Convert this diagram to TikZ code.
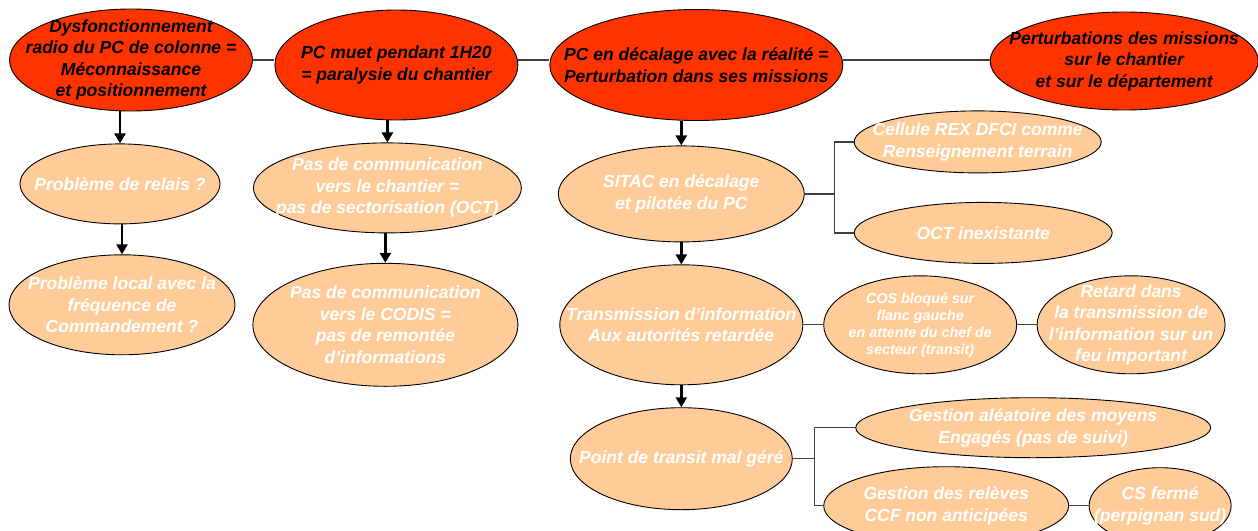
\documentclass[tikz,border=0pt]{standalone}
\usepackage{fontspec}
\setmainfont{Liberation Sans}
\usepackage{tikz}
\usetikzlibrary{arrows.meta,positioning,shapes.geometric}
\definecolor{causered}{HTML}{FF3300}
\definecolor{effectpeach}{HTML}{FFCC99}

\begin{document}
\begin{tikzpicture}[
    x=1pt, y=1pt,
    every node/.style={font=\fontsize{17.5}{21.5}\selectfont\bfseries\itshape},
    cause/.style={draw, ellipse, line width=0.9pt, fill=causered, text=black, align=center, inner sep=-45pt},
    effect/.style={draw, ellipse, line width=0.9pt, fill=effectpeach, text=white, align=center, inner sep=-45pt},
    small/.style={font=\fontsize{14.3}{17}\selectfont\bfseries\itshape},
    flow/.style={-{Triangle[length=10pt, width=11pt]}, line width=2.6pt},
    link/.style={line width=1.3pt, draw=black!75}
]
\useasboundingbox (0,0) rectangle (1258,-530);
\node[cause, minimum width=243pt, minimum height=102pt] (dysf) at (131,-60) {Dysfonctionnement\\radio du PC de colonne =\\Méconnaissance\\et positionnement};
\node[cause, minimum width=243pt, minimum height=110pt, right=21.5pt of dysf, yshift=-5pt] (muet) {PC muet pendant 1H20\\= paralysie du chantier};
\node[cause, minimum width=293pt, minimum height=111pt, right=31pt of muet] (decal) {PC en décalage avec la réalité =\\Perturbation dans ses missions};
\node[cause, minimum width=268pt, minimum height=98pt, right=146.5pt of decal, yshift=4pt] (perturb) {Perturbations des missions\\sur le chantier\\et sur le département};
\node[effect, minimum width=200pt, minimum height=80pt, below=32pt of dysf, xshift=-11pt] (relais) {Problème de relais ?};
\node[effect, minimum width=226pt, minimum height=100pt, below=30pt of relais, xshift=2pt] (local) {Problème local avec la\\fréquence de\\Commandement ?};
\node[effect, minimum width=268pt, minimum height=90pt, below=22pt of muet, xshift=-9pt] (chantier) {Pas de communication\\vers le chantier =\\pas de sectorisation (OCT)};
\node[effect, minimum width=265pt, minimum height=123pt, below=29.5pt of chantier, xshift=-2pt] (codis) {Pas de communication\\vers le CODIS =\\pas de remontée\\d’informations};
\node[effect, minimum width=246pt, minimum height=96pt, below=24.5pt of decal, xshift=-15pt] (sitac) {SITAC en décalage\\et pilotée du PC};
\node[effect, minimum width=247pt, minimum height=62pt, right=49pt of sitac, yshift=52pt] (rex) {Cellule REX DFCI comme\\Renseignement terrain};
\node[effect, minimum width=258pt, minimum height=61pt, right=49pt of sitac, yshift=-39pt] (oct) {OCT inexistante};
\node[effect, minimum width=243pt, minimum height=120pt, below=22pt of sitac] (transm) {Transmission d’information\\Aux autorités retardée};
\node[effect, small, minimum width=193pt, minimum height=98pt, right=20pt of transm] (cos) {COS bloqué sur\\flanc gauche\\en attente du chef de\\secteur (transit)};
\node[effect, minimum width=188pt, minimum height=98pt, right=19.5pt of cos] (retard) {Retard dans\\la transmission de\\l’information sur un\\feu important};
\node[effect, minimum width=222pt, minimum height=102pt, below=22pt of transm] (transit) {Point de transit mal géré};
\node[effect, minimum width=355pt, minimum height=60pt, right=62.5pt of transit, yshift=31pt] (aleat) {Gestion aléatoire des moyens\\Engagés (pas de suivi)};
\node[effect, minimum width=245pt, minimum height=78pt, right=30.5pt of transit, yshift=-47pt] (releves) {Gestion des relèves\\CCF non anticipées};
\node[effect, minimum width=142pt, minimum height=76pt, right=19.5pt of releves] (csferme) {CS fermé\\(perpignan sud)};
\draw[link] (dysf.east) -- (muet.west |- dysf.east);
\draw[link] (muet.east |- dysf.east) -- (decal.west |- dysf.east);
\draw[link] (decal.east |- dysf.east) -- (perturb.west |- dysf.east);
\draw[flow] (dysf.south -| relais.north) -- (relais.north);
\draw[flow] (relais.south -| local.north) -- (local.north);
\draw[flow] (muet.south -| chantier.north) -- (chantier.north);
\draw[flow] (chantier.south -| codis.north) -- (codis.north);
\draw[flow] (decal.south -| sitac.north) -- (sitac.north);
\draw[flow] (sitac.south) -- (transm.north);
\draw[flow] (transm.south) -- (transit.north);
\draw[link] (sitac.east) -- ++(30,0) |- (rex.west);
\draw[link] (sitac.east) -- ++(30,0) |- (oct.west);
\draw[link] (transm.east) -- (cos.west);
\draw[link] (cos.east) -- (retard.west);
\draw[link] (transit.east) -- ++(22,0) |- (aleat.west);
\draw[link] (transit.east) -- ++(22,0) |- (releves.west);
\draw[link] (releves.east) -- (csferme.west);
\end{tikzpicture}
\end{document}
